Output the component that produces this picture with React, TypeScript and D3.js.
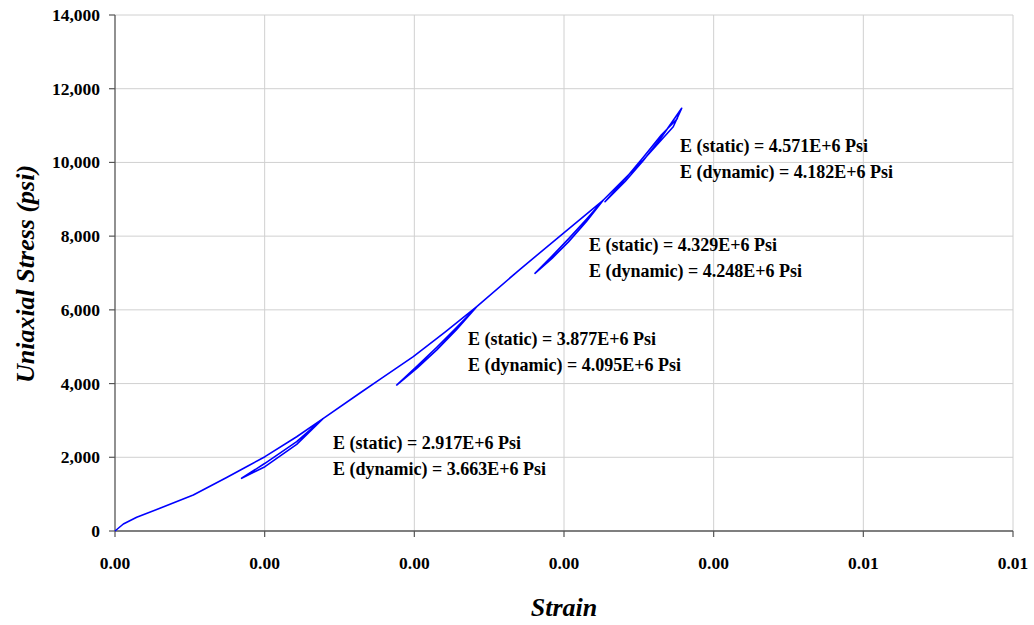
import React from "react";
import * as d3 from "d3";

// Stress-strain path (in recorded order): virgin loading with four unload/reload loops
const strainValues: number[] = [
  0, 0.0000557, 0.000145, 0.0003, 0.000523, 0.000746, 0.000891, 0.001002, 0.001214, 0.00139,
  0.001214, 0.001002, 0.000846, 0.001002, 0.001214, 0.00139,
  0.001637, 0.00177, 0.001993, 0.002205, 0.002417,
  0.00228, 0.00215, 0.00202, 0.001882, 0.00202, 0.00215, 0.00228, 0.002417,
  0.002706, 0.002995, 0.003263,
  0.00315, 0.00303, 0.00292, 0.002806, 0.00292, 0.00303, 0.00315, 0.003263,
  0.00353, 0.00373, 0.003786,
  0.00365, 0.00353, 0.00341, 0.003274, 0.00341, 0.00353, 0.00365, 0.00376,
];
const stressValues: number[] = [
  0, 190, 372, 616, 977, 1450, 1770, 2016, 2558, 3050,
  2350, 1745, 1430, 1837, 2423, 3050,
  3744, 4116, 4729, 5399, 6086,
  5457, 4915, 4425, 3961, 4478, 4985, 5511, 6086,
  7100, 8076, 8980,
  8398, 7845, 7397, 6991, 7457, 7925, 8457, 8980,
  10065, 10969, 11468,
  10678, 10051, 9490, 8934, 9557, 10141, 10745, 11200,
];

const xTicks: number[] = [0, 0.001, 0.002, 0.003, 0.004, 0.005, 0.006];
const yTicks: number[] = [0, 2000, 4000, 6000, 8000, 10000, 12000, 14000];

const annotationStrain: number[] = [0.001457, 0.002359, 0.003167, 0.003775];
const annotationStress: number[] = [2238, 5040, 7590, 10290];
const staticModulus: string[] = ["2.917E+6", "3.877E+6", "4.329E+6", "4.571E+6"];
const dynamicModulus: string[] = ["3.663E+6", "4.095E+6", "4.248E+6", "4.182E+6"];

const W = 1034;
const H = 625;
const left = 115;
const right = 1013;
const top = 15;
const bottom = 531;

export default function App() {
  const x = d3.scaleLinear().domain([0, 0.006]).range([left, right]);
  const y = d3.scaleLinear().domain([0, 14000]).range([bottom, top]);
  const pts: [number, number][] = strainValues.map((s, i) => [s, stressValues[i]]);
  const line = d3
    .line<[number, number]>()
    .x((d) => x(d[0]))
    .y((d) => y(d[1]))
    .curve(d3.curveLinear);
  const fmtX = d3.format(".2f");
  const fmtY = d3.format(",");
  const font = "'Liberation Serif', 'Times New Roman', serif";

  return (
    <svg
      width={W}
      height={H}
      style={{ position: "absolute", left: 0, top: 0, display: "block", background: "#fff" }}
      fontFamily={font}
    >
      <rect x={0} y={0} width={W} height={H} fill="#fff" />
      {/* grid */}
      {xTicks.map((t, i) =>
        i === 0 ? null : (
          <line key={"gx" + i} x1={x(t)} x2={x(t)} y1={top} y2={bottom} stroke="#d0d0d0" strokeWidth={1} />
        )
      )}
      {yTicks.map((t, i) =>
        i === 0 ? null : (
          <line key={"gy" + i} x1={left} x2={right} y1={y(t)} y2={y(t)} stroke="#d0d0d0" strokeWidth={1} />
        )
      )}
      {/* axes */}
      <line x1={left} x2={left} y1={top} y2={bottom} stroke="#555" strokeWidth={1.3} />
      <line x1={left} x2={right} y1={bottom} y2={bottom} stroke="#555" strokeWidth={1.3} />
      {yTicks.map((t, i) => (
        <g key={"ty" + i}>
          <line x1={left - 6} x2={left} y1={y(t)} y2={y(t)} stroke="#555" strokeWidth={1.2} />
          <text x={100} y={y(t) + 6} textAnchor="end" fontSize={17.5} fontWeight="bold" fill="#000">
            {fmtY(t)}
          </text>
        </g>
      ))}
      {xTicks.map((t, i) => (
        <g key={"tx" + i}>
          <line x1={x(t)} x2={x(t)} y1={bottom} y2={bottom + 6} stroke="#555" strokeWidth={1.2} />
          <text x={x(t)} y={569} textAnchor="middle" fontSize={17.5} fontWeight="bold" fill="#000">
            {fmtX(t)}
          </text>
        </g>
      ))}
      {/* axis titles */}
      <text x={564} y={616} textAnchor="middle" fontSize={26} fontWeight="bold" fontStyle="italic" fill="#000">
        Strain
      </text>
      <text
        transform={`translate(34,274) rotate(-90)`}
        textAnchor="middle"
        fontSize={26}
        fontWeight="bold"
        fontStyle="italic"
        fill="#000"
      >
        Uniaxial Stress (psi)
      </text>
      {/* data */}
      <path d={line(pts) || ""} fill="none" stroke="#0000ff" strokeWidth={1.6} strokeLinejoin="round" />
      {/* annotations */}
      {annotationStrain.map((s, i) => (
        <g key={"an" + i}>
          <text x={x(s)} y={y(annotationStress[i])} fontSize={18} fontWeight="bold" fill="#000">
            {`E (static) = ${staticModulus[i]} Psi`}
          </text>
          <text x={x(s)} y={y(annotationStress[i]) + 26} fontSize={18} fontWeight="bold" fill="#000">
            {`E (dynamic) = ${dynamicModulus[i]} Psi`}
          </text>
        </g>
      ))}
    </svg>
  );
}
